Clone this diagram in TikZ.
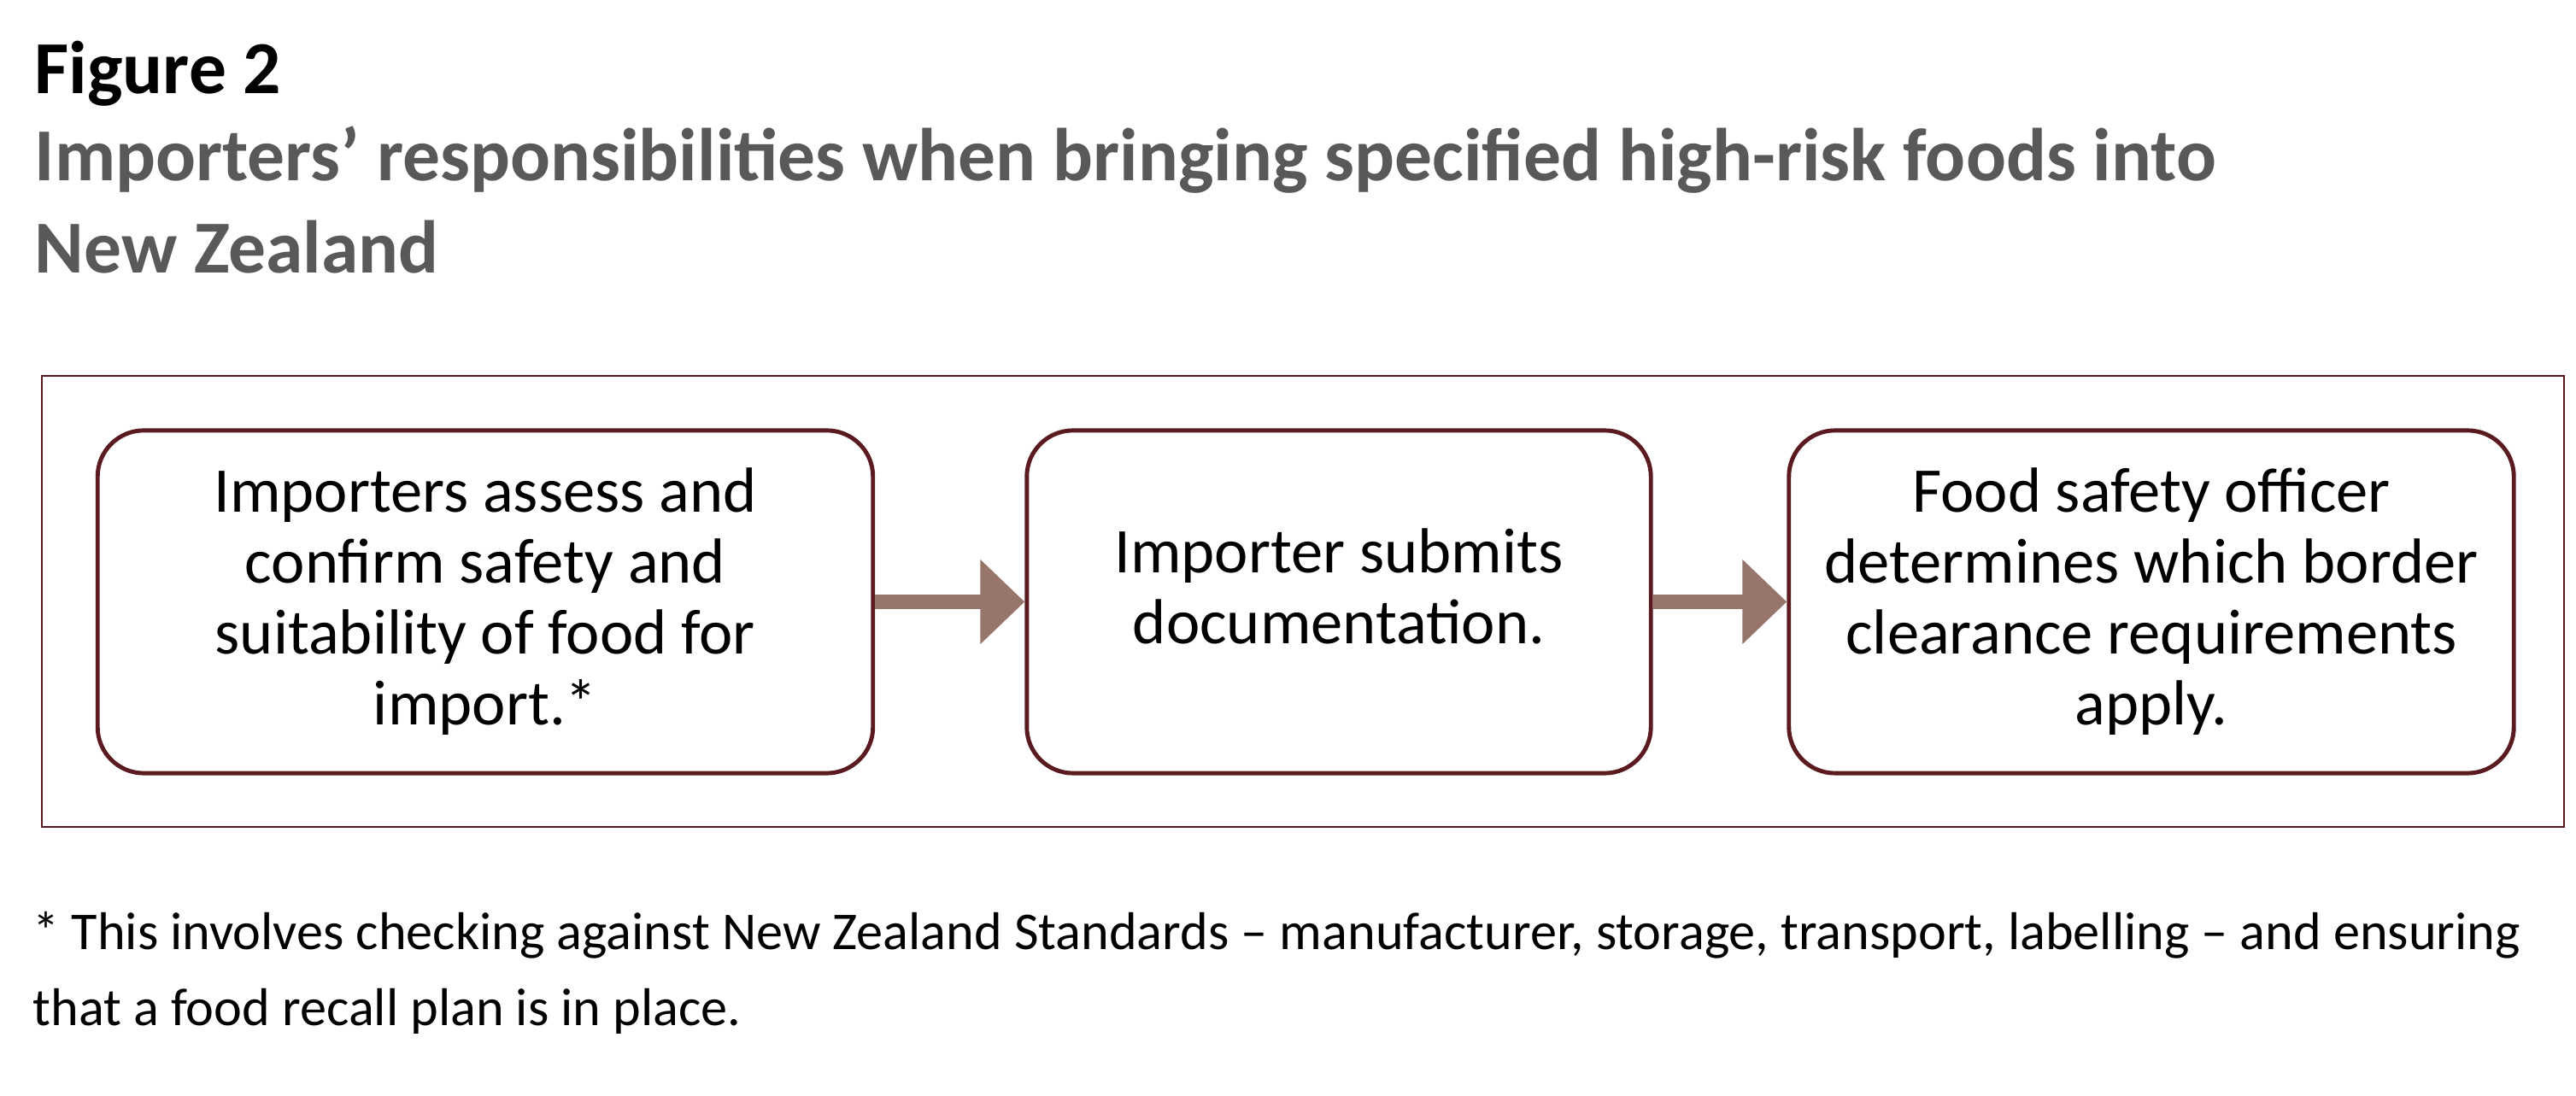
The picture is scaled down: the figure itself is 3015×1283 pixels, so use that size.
\documentclass[tikz,border=0pt]{standalone}
\usepackage{fontspec}
\setmainfont{Carlito}
\usetikzlibrary{arrows.meta}
\definecolor{frameRed}{HTML}{5A1A1F}
\definecolor{arrowBrown}{HTML}{98756B}
\definecolor{titleGrey}{HTML}{58595B}
\begin{document}
\begin{tikzpicture}[x=0.01cm,y=-0.01cm,
  stepbox/.style={draw=frameRed,line width=1.4pt,rounded corners=0.54cm,fill=white,
    minimum height=4.01cm,align=center,inner sep=0pt,font=\fontsize{21.2}{23.6}\selectfont},
  steptext/.style={align=center,inner sep=0pt,font=\fontsize{21.2}{23.6}\selectfont},
  flow/.style={draw=arrowBrown,line width=0.16cm,-{Triangle[length=0.52cm,width=0.96cm]}},
  headline/.style={anchor=base west,inner sep=0pt,font=\fontsize{24.9}{30.4}\selectfont\bfseries},
  footline/.style={anchor=base west,inner sep=0pt,font=\fontsize{17.7}{25}\selectfont}]
\useasboundingbox (0,0) rectangle (3015,1283);
% heading
\node[headline] (fig) at (40,110) {Figure 2};
\node[headline,text=titleGrey] (title1) at (40,212) {Importers’ responsibilities when bringing specified high-risk foods into};
\node[headline,text=titleGrey] (title2) at (40,320) {New Zealand};
% frame and steps
\node[draw=frameRed,line width=0.7pt,minimum width=29.5cm,minimum height=5.28cm,inner sep=0pt] (frame) at (1525,704) {};
\node[stepbox,minimum width=9.07cm] (assess) at (568,704.5) {Importers assess and\\ confirm safety and\\ suitability of food for\\ import.*};
\node[stepbox,minimum width=7.30cm] (submit) at (1567,704.5) {};
\node[steptext] (submittext) at (1567,686) {Importer submits\\ documentation.};
\node[stepbox,minimum width=8.48cm] (officer) at (2518,704.5) {Food safety officer\\ determines which border\\ clearance requirements\\ apply.};
\draw[flow] (assess.east) -- (submit.west);
\draw[flow] (submit.east) -- (officer.west);
% footnote
\node[footline] (note1) at (38,1111) {* This involves checking against New Zealand Standards -- manufacturer, storage, transport, labelling -- and ensuring};
\node[footline] (note2) at (38,1200) {that a food recall plan is in place.};
\end{tikzpicture}
\end{document}
